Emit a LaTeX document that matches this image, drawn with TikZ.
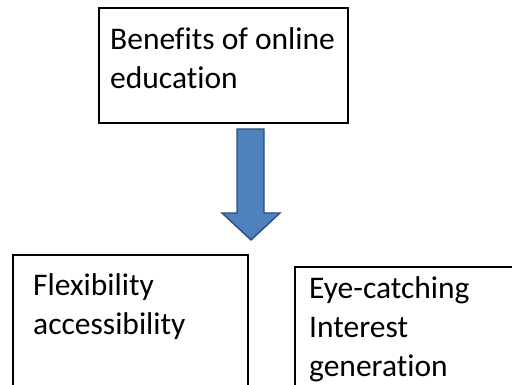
\documentclass[tikz,border=0pt]{standalone}
\usepackage{fontspec}
\setmainfont{Carlito}[Ligatures=NoCommon]
\definecolor{arrowfill}{HTML}{4F81BD}
\definecolor{arrowline}{HTML}{2F4F7A}
\begin{document}
\begin{tikzpicture}[x=1pt,y=1pt,
  boxstyle/.style={draw=black,line width=1.1pt},
  txt/.style={anchor=base west,inner sep=0pt,align=left,font=\fontsize{31.5}{39}\selectfont}]
\useasboundingbox (0,0) rectangle (512,385);
\clip (0,0) rectangle (512,385);
% top box
\draw[boxstyle] (99,262) rectangle (348,377);
\node[txt] (t1) at (110,296) {Benefits of online\\education};
% block arrow
\draw[fill=arrowfill,draw=arrowline,line width=1.4pt]
  (237,256) -- (264,256) -- (264,172) -- (280,172) -- (251,145) -- (222,172) -- (237,172) -- cycle;
% bottom left box
\draw[boxstyle] (13,-10) rectangle (248,130);
\node[txt] (t2) at (33,50) {Flexibility\\accessibility};
% bottom right box
\draw[boxstyle] (295,-10) rectangle (530,118);
\node[txt] (t3) at (309,8) {Eye-catching\\Interest\\generation};
\end{tikzpicture}
\end{document}
